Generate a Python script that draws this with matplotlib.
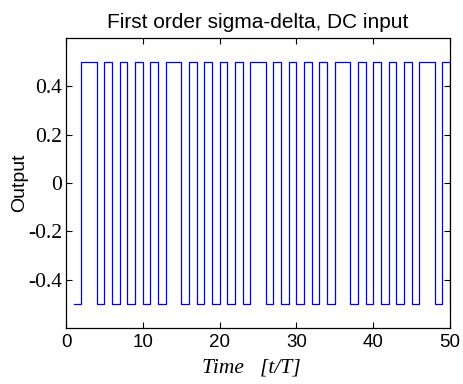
import numpy as np
import matplotlib
matplotlib.use("Agg")
import matplotlib.pyplot as plt

# sample index n = 1..50, output held over [n, n+1)
n = np.arange(1, 51)
# +1 = high, -1 = low
bits = [-1, 1, 1, -1, 1, -1, 1, -1, 1, -1,
        1, -1, 1, 1, -1, 1, -1, 1, -1, 1,
        -1, 1, -1, 1, 1, -1, 1, -1, 1, -1,
        1, -1, 1, -1, 1, 1, -1, 1, -1, 1,
        -1, 1, -1, 1, -1, 1, 1, -1, 1, -1]
y = 0.5 * np.array(bits)

xticks = [0, 10, 20, 30, 40, 50]
yticks = [-0.4, -0.2, 0, 0.2, 0.4]
ytick_labels = ["-0.4", "-0.2", "0", "0.2", "0.4"]

fig = plt.figure(figsize=(4.64, 3.84), dpi=100)
ax = fig.add_axes([66 / 464, 1 - 328 / 384, (450 - 66) / 464, (328 - 38) / 384])

ax.step(n, y, where="post", color=(0, 0, 1), lw=0.9)
ax.set_xlim(0, 50)
ax.set_ylim(-0.6, 0.6)

ax.set_xticks(xticks)
ax.set_xticklabels([str(t) for t in xticks])
ax.set_yticks(yticks)
ax.set_yticklabels(ytick_labels)
ax.tick_params(direction="in", top=True, right=True, length=4, width=0.8)
ax.tick_params(axis="x", pad=4)
ax.tick_params(axis="y", pad=3)
for s in ax.spines.values():
    s.set_linewidth(0.9)

# matlab-ish mixed fonts: sans x ticks, serif y ticks
for lab in ax.get_xticklabels():
    lab.set_fontfamily("Liberation Sans")
    lab.set_fontsize(13.5)
for lab in ax.get_yticklabels():
    lab.set_fontfamily("Liberation Serif")
    lab.set_fontsize(15.5)

ax.set_title("First order sigma-delta, DC input", family="Liberation Sans",
             fontsize=15, pad=7)
ax.set_ylabel("Output", family="Liberation Sans", fontsize=14, labelpad=0)
ax.set_xlabel("Time   [t/T]", family="Liberation Serif", style="italic",
              fontsize=15.5)
ax.xaxis.set_label_coords(0.483, -0.105)

fig.savefig("out.png", dpi=100)
